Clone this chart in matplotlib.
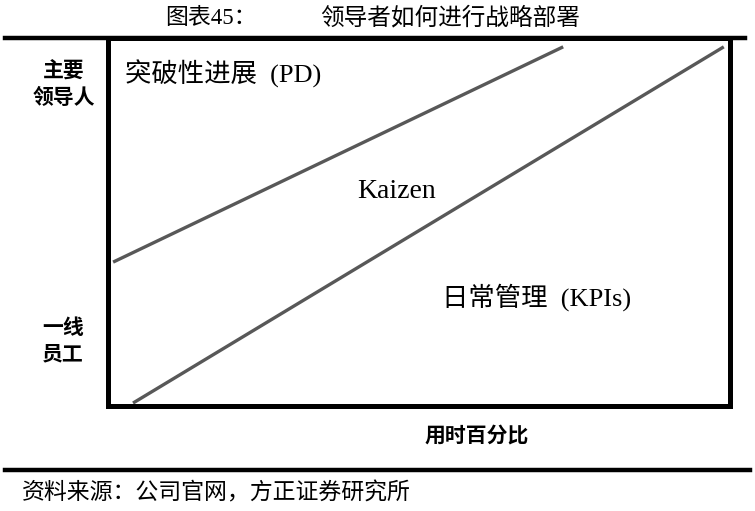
import matplotlib
matplotlib.use("Agg")
import matplotlib.pyplot as plt
from matplotlib.lines import Line2D

plt.rcParams['font.family'] = ['Noto Sans CJK SC', 'DejaVu Sans']

# Lines in percent of the box (x: time share, y: hierarchy level)
pdX = [0.9, 73.2]
pdY = [39.1, 97.6]
kpiX = [4.1, 99.0]
kpiY = [0.8, 97.6]

titleNo = "图表45："
title = "领导者如何进行战略部署"
topLabel = "主要\n领导人"
bottomLabel = "一线\n员工"
xLabel = "用时百分比"
regionLabels = ["突破性进展  (PD)", "Kaizen", "日常管理  (KPIs)"]
regionX = [2.8, 46.5, 53.7]
regionY = [90.3, 58.2, 29.5]
source = "资料来源：公司官网，方正证券研究所"

W, H = 755, 511
fig = plt.figure(figsize=(W / 100, H / 100), dpi=100)

# box around the diagram
left, top, right, bottom = 107.5, 38, 730, 406
ax = fig.add_axes([left / W, 1 - bottom / H, (right - left) / W, (bottom - top) / H])
ax.set_xlim(0, 100)
ax.set_ylim(0, 100)
ax.set_xticks([])
ax.set_yticks([])
for s in ax.spines.values():
    s.set_linewidth(3.6)
    s.set_color('black')

ax.plot(pdX, pdY, color='#585858', linewidth=2.4, solid_capstyle='butt')
ax.plot(kpiX, kpiY, color='#585858', linewidth=2.4, solid_capstyle='butt')

serif = ['Liberation Serif', 'Noto Sans CJK SC']
ax.text(regionX[0], regionY[0], regionLabels[0], fontsize=19, ha='left', va='center', family=serif)
ax.text(regionX[1], regionY[1], regionLabels[1], fontsize=20, ha='center', va='center', family=serif)
ax.text(regionX[2], regionY[2], regionLabels[2], fontsize=19, ha='left', va='center', family=serif)

# side labels
fig.text(64 / W, 1 - 84 / H, topLabel, fontsize=15, fontweight='bold', ha='center',
         va='center', linespacing=1.3)
fig.text(63 / W, 1 - 341 / H, bottomLabel, fontsize=15, fontweight='bold', ha='center',
         va='center', linespacing=1.3)
fig.text(477 / W, 1 - 435 / H, xLabel, fontsize=15, fontweight='bold', ha='center', va='center')

# title and rules
fig.text(165 / W, 1 - 18 / H, titleNo, fontsize=16.5, ha='left', va='center', family=serif)
fig.text(320 / W, 1 - 18 / H, title, fontsize=17, ha='left', va='center')
fig.add_artist(Line2D([5 / W, 745 / W], [1 - 38 / H, 1 - 38 / H], color='black', linewidth=3.2,
                      transform=fig.transFigure))
fig.add_artist(Line2D([5 / W, 750 / W], [1 - 470 / H, 1 - 470 / H], color='black', linewidth=3.2,
                      transform=fig.transFigure))
fig.text(22 / W, 1 - 493 / H, source, fontsize=16.5, ha='left', va='center', style='italic')

plt.savefig("out.png", dpi=100)
